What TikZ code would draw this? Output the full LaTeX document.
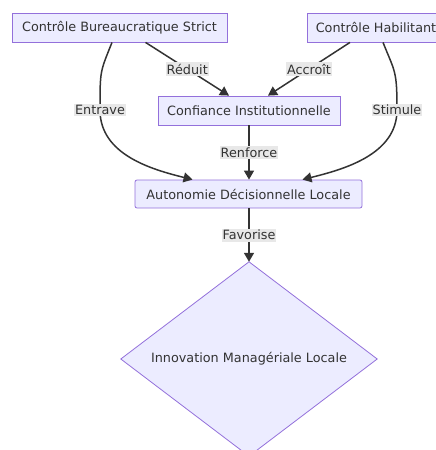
\documentclass[tikz,border=0pt]{standalone}
\usepackage{fontspec}
\setmainfont{DejaVu Sans}
\usetikzlibrary{arrows.meta,shapes.geometric}
\definecolor{nodefill}{HTML}{ECECFF}
\definecolor{nodeborder}{HTML}{9370DB}
\definecolor{edgecol}{HTML}{333333}
\definecolor{lblbg}{HTML}{E8E8E8}
\tikzset{
  txt/.style={text=edgecol, font=\fontsize{12.8}{14}\selectfont},
  box/.style={draw=nodeborder, fill=nodefill, line width=0.8pt, inner sep=0pt, txt},
  lbl/.style={fill=lblbg, inner xsep=1pt, inner ysep=1.5pt, txt},
  edge/.style={draw=edgecol, line width=1.5pt, -{Triangle[length=9pt,width=10pt]}},
}
\begin{document}
\begin{tikzpicture}[x=1pt,y=-1pt]
\useasboundingbox (0,0) rectangle (436,450);
\clip (0,0) rectangle (436,450);
\node[box, minimum width=215pt, minimum height=29pt] (A) at (119.5,27.5) {Contrôle Bureaucratique Strict};
\node[box, minimum width=138pt, minimum height=29pt] (B) at (376,27.5) {Contrôle Habilitant};
\node[box, minimum width=182pt, minimum height=29pt] (C) at (249,110.5) {Confiance Institutionnelle};
\node[box, minimum width=227pt, minimum height=28pt, rounded corners=2pt] (D) at (248.5,194) {Autonomie Décisionnelle Locale};
\node[draw=none, minimum width=256pt, minimum height=194pt] (E) at (249,359) {};
\path[draw=nodeborder, fill=nodefill, line width=0.8pt] (E.north) -- (E.east) -- (E.south) -- (E.west) -- cycle;
\node[txt] (Et) at (E.center) {Innovation Managériale Locale};
\draw[edge] ([xshift=26pt]A.south) -- node[lbl] {Réduit} ([xshift=-20pt]C.north);
\draw[edge] ([xshift=-26pt]B.south) -- node[lbl] {Accroît} ([xshift=19pt]C.north);
\draw[edge] ([xshift=-7.5pt]A.south) .. controls +(-12,30) and +(0,-40) .. (100,110) node[lbl] {Entrave}
  .. controls +(0,45) and +(-40,-10) .. ([xshift=-56pt]D.north);
\draw[edge] ([xshift=7pt]B.south) .. controls +(12,30) and +(0,-40) .. (397,110) node[lbl] {Stimule}
  .. controls +(0,45) and +(40,-10) .. ([xshift=54pt]D.north);
\draw[edge] (C.south) -- node[lbl] {Renforce} (D.north -| C.south);
\draw[edge] (D.south -| E.north) -- node[lbl] {Favorise} (E.north);
\end{tikzpicture}
\end{document}
